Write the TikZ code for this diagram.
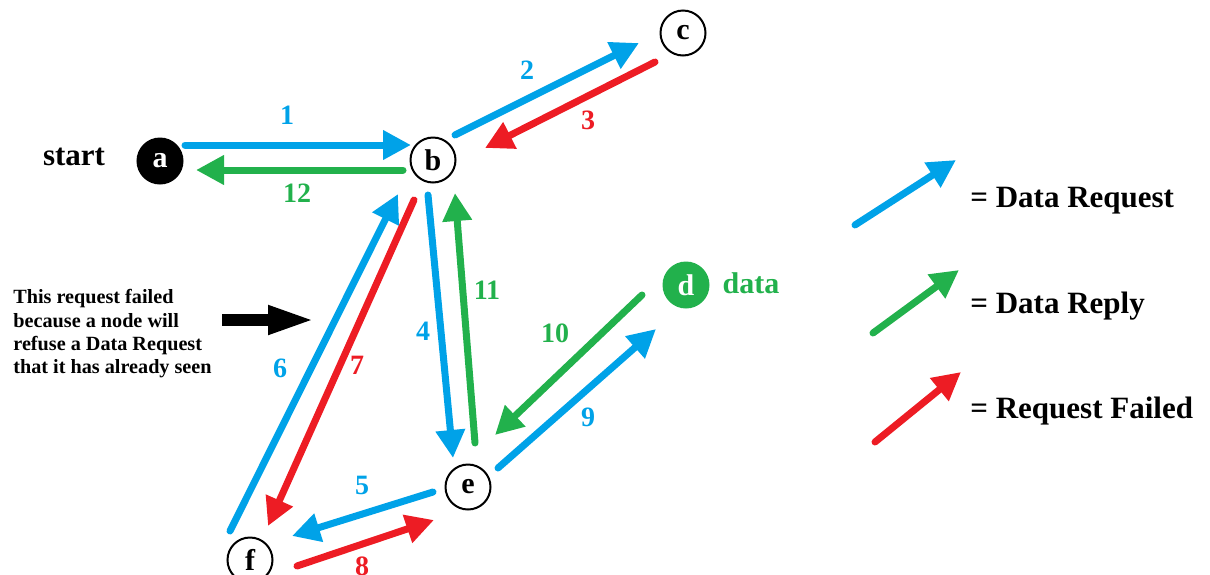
\documentclass[tikz,border=0pt]{standalone}
\usepackage{fontspec}
\setmainfont{Liberation Serif}
\usetikzlibrary{arrows.meta}

\definecolor{reqblue}{RGB}{0,162,232}
\definecolor{replygreen}{RGB}{34,177,76}
\definecolor{failred}{RGB}{237,28,36}

\tikzset{
  peer/.style={circle, draw=black, line width=1pt, minimum size=22.5pt, inner sep=0pt,
    font=\bfseries\fontsize{15}{15}\selectfont},
  hop/.style={line width=3.5pt, line cap=round, -{Triangle[length=14pt,width=14pt]}},
  num/.style={inner sep=0pt, font=\bfseries\fontsize{14}{14}\selectfont},
  legtext/.style={anchor=base west, inner sep=0pt, font=\bfseries\fontsize{15.5}{15.5}\selectfont},
}

\begin{document}
\begin{tikzpicture}[x=0.5pt, y=-0.5pt]
            \useasboundingbox (0,0) rectangle (1210,574);

            % Nodes of the network
            \node[peer, fill=black, text=white] (a) at (160,161) {a};
            \node[peer] (b) at (433,160) {b};
            \node[peer] (c) at (683,33) {c};
            \node[peer, draw=replygreen, fill=replygreen, text=white] (d) at (686,285) {d};
            \node[peer] (e) at (468,487) {e};
            \node[peer] (f) at (250,560) {f};

            \node[inner sep=0pt, font=\bfseries\fontsize{15.5}{15.5}\selectfont] (start) at (74,157) {start};
            \node[inner sep=0pt, text=replygreen, font=\bfseries\fontsize{15}{15}\selectfont] (datatag) at (751,283) {data};

            % Data Requests (blue)
            \draw[hop, reqblue] ([shift={(25,-16)}]a.center) -- ([shift={(-22,-15)}]b.center); % 1
            \draw[hop, reqblue] ([shift={(22,-25)}]b.center) -- ([shift={(-44,10)}]c.center); % 2
            \draw[hop, reqblue] ([shift={(-5,35)}]b.center) -- ([shift={(-15,-29)}]e.center); % 4
            \draw[hop, reqblue] ([shift={(-35,5)}]e.center) -- ([shift={(42,-24)}]f.center); % 5
            \draw[hop, reqblue] ([shift={(-20,-29)}]f.center) -- ([shift={(-35,34)}]b.center); % 6
            \draw[hop, reqblue] ([shift={(30,-19)}]e.center) -- ([shift={(-30,44)}]d.center); % 9

            % Requests failed (red)
            \draw[hop, failred] ([shift={(-28,29)}]c.center) -- ([shift={(52,-12)}]b.center); % 3
            \draw[hop, failred] ([shift={(-19,40)}]b.center) -- ([shift={(18,-34)}]f.center); % 7
            \draw[hop, failred] ([shift={(47,6)}]f.center) -- ([shift={(-34,33)}]e.center); % 8

            % Data Replies (green)
            \draw[hop, replygreen] ([shift={(-44,10)}]d.center) -- ([shift={(27,-52)}]e.center); % 10
            \draw[hop, replygreen] ([shift={(7,-44)}]e.center) -- ([shift={(22,33)}]b.center); % 11
            \draw[hop, replygreen] ([shift={(-30,10)}]b.center) -- ([shift={(36,9)}]a.center); % 12

            % Step numbers
            \node[num, text=reqblue] (n1) at (287,115) {1};
            \node[num, text=reqblue] (n2) at (527,70) {2};
            \node[num, text=failred] (n3) at (588,120) {3};
            \node[num, text=reqblue] (n4) at (423,331) {4};
            \node[num, text=reqblue] (n5) at (362,485) {5};
            \node[num, text=reqblue] (n6) at (280,368) {6};
            \node[num, text=failred] (n7) at (357,365) {7};
            \node[num, text=failred] (n8) at (362,566) {8};
            \node[num, text=reqblue] (n9) at (588,417) {9};
            \node[num, text=replygreen] (n10) at (555,333) {10};
            \node[num, text=replygreen] (n11) at (487,290) {11};
            \node[num, text=replygreen] (n12) at (297,193) {12};

            % Note on the failed request
            \node[anchor=north west, inner sep=0pt, align=left,
              font=\bfseries\fontsize{10.1}{11.7}\selectfont] (note) at (13,289)
              {This request failed\\because a node will\\refuse a Data Request\\that it has already seen};
            \coordinate (failtail) at (222,320);
            \coordinate (failtip) at (316,320);
            \draw[line width=6pt, -{Triangle[length=24pt,width=13pt]}] (failtail) -- (failtip);

            % Legend
            \node[legtext] (lreq) at (970,207) {= Data Request};
            \node[legtext] (lrep) at (970,313) {= Data Reply};
            \node[legtext] (lfail) at (970,418) {= Request Failed};
            \draw[hop, reqblue] ([shift={(-115,18)}]lreq.base west) -- ([shift={(-14,-47)}]lreq.base west);
            \draw[hop, replygreen] ([shift={(-97,20)}]lrep.base west) -- ([shift={(-11,-43)}]lrep.base west);
            \draw[hop, failred] ([shift={(-95,24)}]lfail.base west) -- ([shift={(-9,-46)}]lfail.base west);
\end{tikzpicture}
\end{document}
